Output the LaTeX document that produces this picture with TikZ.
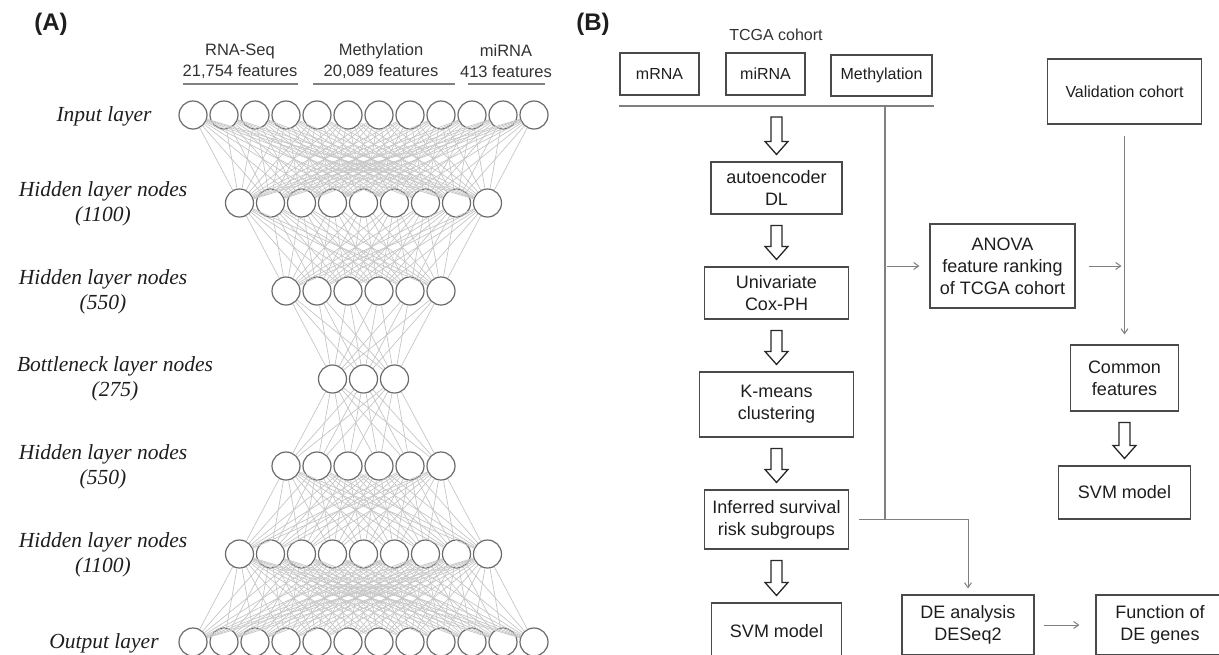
\documentclass[tikz,border=0pt]{standalone}
\usepackage{fontspec}
\setmainfont{Liberation Sans}
\newfontfamily\timesfont{Liberation Serif}
\usetikzlibrary{calc, arrows.meta}

\definecolor{textBlack}{RGB}{30,30,30}
\definecolor{textGray}{RGB}{50,50,50}
\definecolor{boxGray}{RGB}{74,74,74}
\definecolor{arrowBlack}{RGB}{40,40,40}
\definecolor{lineGray}{RGB}{128,128,128}
\definecolor{neuronGray}{RGB}{106,106,106}
\definecolor{edgeGray}{RGB}{198,198,198}

\newcommand{\blockArrow}[2]{\draw[bigArrowStyle] ($(#1)+(-5.5,11)$) -- ($(#2)+(-5.5,-20)$) -- ($(#2)+(-11.5,-20)$) -- ($(#2)+(0,-7)$) -- ($(#2)+(11.5,-20)$) -- ($(#2)+(5.5,-20)$) -- ($(#1)+(5.5,11)$) -- cycle;}

\begin{document}
\begin{tikzpicture}[x = 1pt, y = -1pt]
\tikzstyle{neuronStyle} = [shape = circle, minimum size = 28pt, inner sep = 0pt, draw = neuronGray, line width = 1.2pt, fill = white]
\tikzstyle{EdgeStyle} = [draw = edgeGray, line width = 0.7pt]
\tikzstyle{layerStyle} = [font = \timesfont\itshape\fontsize{21.5}{25}\selectfont, align = center, text = textBlack]
\tikzstyle{panelStyle} = [font = \bfseries\fontsize{24}{24}\selectfont, text = textBlack]
\tikzstyle{headStyle} = [font = \fontsize{16.5}{21}\selectfont, align = center, text = textGray]
\tikzstyle{ruleStyle} = [draw = lineGray, line width = 1.4pt]
\tikzstyle{lineStyle} = [draw = lineGray, line width = 1.1pt]
\tikzstyle{smallBoxStyle} = [shape = rectangle, draw = boxGray, line width = 1.1pt, inner sep = 0pt, align = center, text = textBlack, font = \fontsize{16}{20}\selectfont]
\tikzstyle{boxStyle} = [smallBoxStyle, font = \fontsize{18}{22}\selectfont]
\tikzstyle{bigArrowStyle} = [draw = arrowBlack, line width = 1.3pt, line join = miter]
\tikzstyle{thinArrowStyle} = [draw = lineGray, line width = 1pt, -{Straight Barb[length = 5pt, width = 7pt]}]
\useasboundingbox (0,0) rectangle (1219,654);

\node[panelStyle] (panelA) at (51, 24) {(A)};
\node[panelStyle] (panelB) at (593, 24) {(B)};

\node[headStyle] (rnaHead) at (240, 61) {RNA-Seq\\21,754 features};
\node[headStyle] (methHead) at (381, 61) {Methylation\\20,089 features};
\node[headStyle] (mirHead) at (506, 61) {miRNA\\413 features};
\draw[ruleStyle] (183, 84) -- (298, 84);
\draw[ruleStyle] (313, 84) -- (455, 84);
\draw[ruleStyle] (468, 84) -- (545, 84);

\node[layerStyle] (inLabel) at (104, 116) {Input layer};
\node[layerStyle] (hALabel) at (103, 204) {Hidden layer nodes\\(1100)};
\node[layerStyle] (hBLabel) at (103, 292) {Hidden layer nodes\\(550)};
\node[layerStyle] (bnLabel) at (115, 379) {Bottleneck layer nodes\\(275)};
\node[layerStyle] (hCLabel) at (103, 467) {Hidden layer nodes\\(550)};
\node[layerStyle] (hDLabel) at (103, 555) {Hidden layer nodes\\(1100)};
\node[layerStyle] (outLabel) at (104, 643) {Output layer};

\foreach \lay/\cnt/\ypos in {in/12/115, hA/9/203, hB/6/291, bn/3/379, hC/6/466, hD/9/554, out/12/642}
  \foreach \i in {1,...,\cnt}
    \node[neuronStyle] (\lay\i) at ({363.5 + 31*(\i - (\cnt + 1)/2)}, \ypos) {};
\foreach \la/\na/\lb/\nb in {in/12/hA/9, hA/9/hB/6, hB/6/bn/3, bn/3/hC/6, hC/6/hD/9, hD/9/out/12}
  \foreach \i in {1,...,\na}
    \foreach \j in {1,...,\nb}
      \draw[EdgeStyle] (\la\i) -- (\lb\j);

\node[headStyle, font = \fontsize{16}{20}\selectfont] (tcgaLabel) at (776, 35) {TCGA cohort};
\node[smallBoxStyle, minimum width = 79pt, minimum height = 42pt] (mrna) at (659.5, 74) {mRNA};
\node[smallBoxStyle, minimum width = 79pt, minimum height = 42pt] (mirna) at (765.5, 74) {miRNA};
\node[smallBoxStyle, minimum width = 101pt, minimum height = 41pt] (meth) at (881.5, 75.5) {Methylation};
\node[smallBoxStyle, minimum width = 154pt, minimum height = 65pt] (valid) at (1124.5, 91.5) {Validation cohort};
\node[boxStyle, minimum width = 131pt, minimum height = 52pt] (autoenc) at (776.5, 188) {autoencoder\\DL};
\node[boxStyle, minimum width = 144pt, minimum height = 52pt] (univar) at (776.5, 293) {Univariate\\Cox-PH};
\node[boxStyle, minimum width = 154pt, minimum height = 65pt] (kmeans) at (776.5, 404.5) {K-means\\clustering};
\node[boxStyle, minimum width = 144pt, minimum height = 59pt] (infer) at (776.5, 519.5) {Inferred survival\\risk subgroups};
\node[boxStyle, minimum width = 130pt, minimum height = 56pt] (svmLeft) at (776.5, 631) {SVM model};
\node[boxStyle, minimum width = 145pt, minimum height = 84pt] (anova) at (1002.5, 266) {ANOVA\\feature ranking\\of TCGA cohort};
\node[boxStyle, minimum width = 108pt, minimum height = 66pt] (common) at (1124.5, 378) {Common\\features};
\node[boxStyle, minimum width = 132pt, minimum height = 53pt] (svmRight) at (1124.5, 492.5) {SVM model};
\node[boxStyle, minimum width = 132pt, minimum height = 60pt] (deseq) at (968, 625) {DE analysis\\DESeq2};
\node[boxStyle, minimum width = 128pt, minimum height = 60pt] (funcDE) at (1160, 625) {Function of\\DE genes};

\coordinate (barLeft) at (619, 106);
\coordinate (barRight) at (934, 106);
\coordinate (barMid) at (776.5, 106);
\coordinate (trunkTop) at (885, 106);
\coordinate (trunkBot) at (trunkTop |- infer.east);
\draw[ruleStyle] (barLeft) -- (barRight);
\draw[lineStyle] (trunkTop) -- (trunkBot);

\blockArrow{barMid}{autoenc.north}
\blockArrow{autoenc.south}{univar.north}
\blockArrow{univar.south}{kmeans.north}
\blockArrow{kmeans.south}{infer.north}
\blockArrow{infer.south}{svmLeft.north}
\blockArrow{common.south}{svmRight.north}

\draw[thinArrowStyle, shorten <= 2pt, shorten >= 10pt] (trunkTop |- anova.west) -- (anova.west);
\draw[thinArrowStyle, shorten <= 13pt, shorten >= 3pt] (anova.east) -- (anova.east -| valid.south);
\draw[thinArrowStyle, shorten <= 11pt, shorten >= 10pt] (valid.south) -- (common.north);
\draw[thinArrowStyle, shorten <= 10pt, shorten >= 6pt] (infer.east) -| (deseq.north);
\draw[thinArrowStyle, shorten <= 9pt, shorten >= 16pt] (deseq.east) -- (funcDE.west);
\end{tikzpicture}
\end{document}
